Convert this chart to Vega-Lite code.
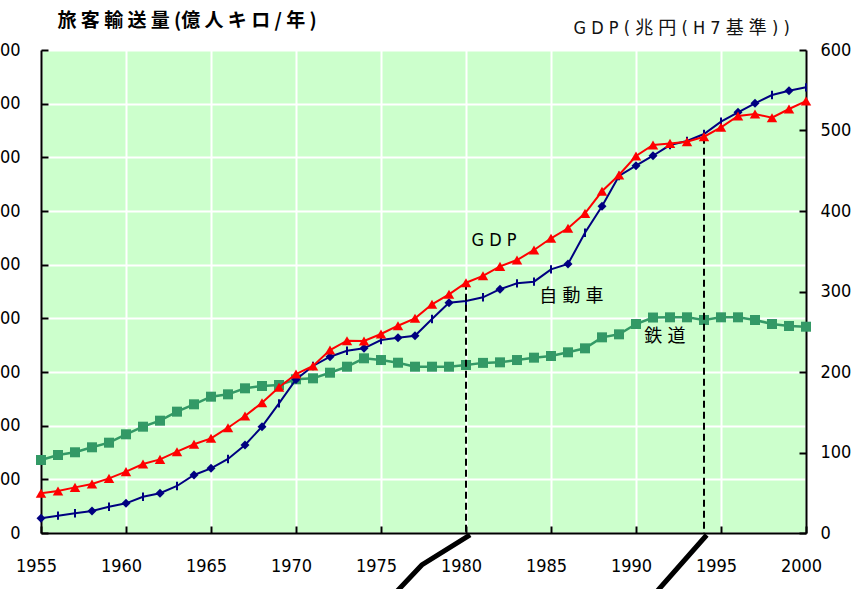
{
  "$schema": "https://vega.github.io/schema/vega-lite/v6.json",
  "width": 765,
  "height": 483,
  "autosize": {"type": "none"},
  "padding": {"left": 41, "top": 50, "right": 50, "bottom": 56},
  "background": "white",
  "config": {
    "view": {"fill": "#CCFFCC", "stroke": null},
    "font": "'DejaVu Sans Condensed', 'Liberation Sans', sans-serif"
  },
  "datasets": {
    "series": [
      {"year": 1955, "rail": 1360, "auto": 274, "gdp": 49.3},
      {"year": 1956, "rail": 1453, "auto": 323, "gdp": 52.2},
      {"year": 1957, "rail": 1504, "auto": 367, "gdp": 56.7},
      {"year": 1958, "rail": 1597, "auto": 410, "gdp": 60.9},
      {"year": 1959, "rail": 1683, "auto": 490, "gdp": 67.9},
      {"year": 1960, "rail": 1839, "auto": 553, "gdp": 76.2},
      {"year": 1961, "rail": 1981, "auto": 676, "gdp": 85.7},
      {"year": 1962, "rail": 2093, "auto": 740, "gdp": 91.5},
      {"year": 1963, "rail": 2261, "auto": 876, "gdp": 101.0},
      {"year": 1964, "rail": 2398, "auto": 1081, "gdp": 110.2},
      {"year": 1965, "rail": 2540, "auto": 1205, "gdp": 117.6},
      {"year": 1966, "rail": 2584, "auto": 1379, "gdp": 130.8},
      {"year": 1967, "rail": 2696, "auto": 1640, "gdp": 145.3},
      {"year": 1968, "rail": 2739, "auto": 1981, "gdp": 161.9},
      {"year": 1969, "rail": 2758, "auto": 2416, "gdp": 181.0},
      {"year": 1970, "rail": 2864, "auto": 2860, "gdp": 197.5},
      {"year": 1971, "rail": 2882, "auto": 3112, "gdp": 207.5},
      {"year": 1972, "rail": 2987, "auto": 3285, "gdp": 227.3},
      {"year": 1973, "rail": 3099, "auto": 3397, "gdp": 238.9},
      {"year": 1974, "rail": 3255, "auto": 3441, "gdp": 238.5},
      {"year": 1975, "rail": 3223, "auto": 3596, "gdp": 247.2},
      {"year": 1976, "rail": 3173, "auto": 3639, "gdp": 257.5},
      {"year": 1977, "rail": 3099, "auto": 3676, "gdp": 266.7},
      {"year": 1978, "rail": 3099, "auto": 3987, "gdp": 284.1},
      {"year": 1979, "rail": 3099, "auto": 4291, "gdp": 296.5},
      {"year": 1980, "rail": 3130, "auto": 4323, "gdp": 310.9},
      {"year": 1981, "rail": 3170, "auto": 4392, "gdp": 319.5},
      {"year": 1982, "rail": 3180, "auto": 4543, "gdp": 331.2},
      {"year": 1983, "rail": 3223, "auto": 4652, "gdp": 339.1},
      {"year": 1984, "rail": 3267, "auto": 4683, "gdp": 351.6},
      {"year": 1985, "rail": 3298, "auto": 4913, "gdp": 366.1},
      {"year": 1986, "rail": 3367, "auto": 5012, "gdp": 378.5},
      {"year": 1987, "rail": 3441, "auto": 5595, "gdp": 397.1},
      {"year": 1988, "rail": 3646, "auto": 6087, "gdp": 424.5},
      {"year": 1989, "rail": 3702, "auto": 6652, "gdp": 444.7},
      {"year": 1990, "rail": 3894, "auto": 6844, "gdp": 468.3},
      {"year": 1991, "rail": 4015, "auto": 7030, "gdp": 482.0},
      {"year": 1992, "rail": 4019, "auto": 7229, "gdp": 484.0},
      {"year": 1993, "rail": 4019, "auto": 7304, "gdp": 486.1},
      {"year": 1994, "rail": 3969, "auto": 7434, "gdp": 492.3},
      {"year": 1995, "rail": 4019, "auto": 7664, "gdp": 504.0},
      {"year": 1996, "rail": 4019, "auto": 7839, "gdp": 518.0},
      {"year": 1997, "rail": 3969, "auto": 8006, "gdp": 520.5},
      {"year": 1998, "rail": 3894, "auto": 8161, "gdp": 515.9},
      {"year": 1999, "rail": 3857, "auto": 8241, "gdp": 526.7},
      {"year": 2000, "rail": 3844, "auto": 8304, "gdp": 536.6}
    ],
    "notes": [
      {"text": "G D P", "year": 1981.65, "value": 5441},
      {"text": "自 動 車", "year": 1986.2, "value": 4397},
      {"text": "鉄 道", "year": 1991.7, "value": 3652}
    ],
    "leaders": [
      {"grp": "a", "year": 1980.24, "value": -37},
      {"grp": "a", "year": 1977.4, "value": -596},
      {"grp": "a", "year": 1974.9, "value": -1435},
      {"grp": "b", "year": 1994.16, "value": -37},
      {"grp": "b", "year": 1991.41, "value": -1025},
      {"grp": "b", "year": 1990.27, "value": -1435}
    ]
  },
  "encoding": {
    "x": {
      "field": "year",
      "type": "quantitative",
      "scale": {"domain": [1955, 2000], "nice": false, "zero": false},
      "axis": {
        "title": null,
        "values": [1955, 1960, 1965, 1970, 1975, 1980, 1985, 1990, 1995, 2000],
        "format": "d",
        "grid": true,
        "gridColor": "white",
        "gridWidth": 2,
        "gridOpacity": 1,
        "domainColor": "black",
        "domainWidth": 2,
        "tickColor": "black",
        "tickWidth": 2,
        "tickSize": -7,
        "labelFlush": false,
        "labelOverlap": false,
        "labelFontSize": 18,
        "labelColor": "black",
        "labelBaseline": "top",
        "labelPadding": 31,
        "labelOffset": -5
      }
    }
  },
  "layer": [
    {
      "layer": [
        {
          "data": {"name": "series"},
          "mark": {"type": "line", "color": "#339966", "strokeWidth": 2.5},
          "encoding": {
            "y": {
              "field": "rail",
              "type": "quantitative",
              "scale": {"domain": [0, 9000], "nice": false, "zero": false},
              "axis": {
                "orient": "left",
                "values": [0, 1000, 2000, 3000, 4000, 5000, 6000, 7000, 8000, 9000],
                "format": "d",
                "grid": true,
                "gridColor": "white",
                "gridWidth": 2,
                "gridOpacity": 1,
                "domainColor": "black",
                "domainWidth": 2,
                "tickColor": "black",
                "tickWidth": 2,
                "tickSize": -7,
                "labelFontSize": 18,
                "labelColor": "black",
                "labelAlign": "right",
                "labelPadding": 28,
                "labelFlush": false,
                "labelOverlap": false,
                "title": "旅 客 輸 送 量 (億 人 キ ロ / 年 )",
                "titleAngle": 0,
                "titleAlign": "left",
                "titleBaseline": "middle",
                "titleX": 16,
                "titleY": -30,
                "titleFont": "'Noto Sans CJK JP'",
                "titleFontSize": 19,
                "titleFontWeight": "bold",
                "titleColor": "black"
              }
            }
          }
        },
        {
          "data": {"name": "series"},
          "mark": {"type": "point", "shape": "square", "filled": true, "size": 100, "color": "#339966", "opacity": 1},
          "encoding": {"y": {"field": "rail", "type": "quantitative"}}
        },
        {
          "data": {"name": "series"},
          "mark": {"type": "line", "color": "#000080", "strokeWidth": 2},
          "encoding": {"y": {"field": "auto", "type": "quantitative"}}
        },
        {
          "data": {"name": "series"},
          "transform": [{"filter": "indexof([1955,1958,1960,1962,1964,1965,1967,1968,1970,1972,1974,1976,1977,1979,1982,1986,1988,1990,1991,1996,1997,1999], datum.year) >= 0"}],
          "mark": {"type": "point", "shape": "diamond", "filled": true, "size": 80, "color": "#000080", "opacity": 1},
          "encoding": {"y": {"field": "auto", "type": "quantitative"}}
        },
        {
          "data": {"name": "series"},
          "transform": [{"filter": "indexof([1955,1958,1960,1962,1964,1965,1967,1968,1970,1972,1974,1976,1977,1979,1982,1986,1988,1990,1991,1996,1997,1999], datum.year) < 0"}],
          "mark": {"type": "point", "shape": "stroke", "angle": 90, "filled": false, "size": 70, "strokeWidth": 2, "color": "#000080", "opacity": 1},
          "encoding": {"y": {"field": "auto", "type": "quantitative"}}
        },
        {
          "data": {"name": "notes"},
          "mark": {"type": "text", "align": "center", "baseline": "middle", "font": "'DejaVu Sans Condensed', 'Liberation Sans', 'Noto Sans CJK JP'", "fontSize": 18, "color": "black"},
          "encoding": {
            "y": {"field": "value", "type": "quantitative"},
            "text": {"field": "text"}
          }
        },
        {
          "data": {"name": "leaders"},
          "mark": {"type": "line", "color": "black", "strokeWidth": 5, "clip": false},
          "encoding": {
            "y": {"field": "value", "type": "quantitative"},
            "detail": {"field": "grp"}
          }
        }
      ]
    },
    {
      "layer": [
        {
          "data": {"name": "series"},
          "transform": [{"filter": "datum.year == 1980 || datum.year == 1994"}],
          "mark": {"type": "rule", "color": "black", "strokeWidth": 2, "strokeDash": [7, 4]},
          "encoding": {
            "y": {"field": "gdp", "type": "quantitative"},
            "y2": {"datum": 0}
          }
        },
        {
          "data": {"name": "series"},
          "mark": {"type": "line", "color": "#FF0000", "strokeWidth": 2},
          "encoding": {
            "y": {
              "field": "gdp",
              "type": "quantitative",
              "scale": {"domain": [0, 600], "nice": false, "zero": false},
              "axis": {
                "orient": "right",
                "values": [0, 100, 200, 300, 400, 500, 600],
                "format": "d",
                "grid": false,
                "domainColor": "black",
                "domainWidth": 2,
                "tickColor": "black",
                "tickWidth": 2,
                "tickSize": -7,
                "labelFontSize": 18,
                "labelColor": "black",
                "labelAlign": "left",
                "labelPadding": 21,
                "labelFlush": false,
                "labelOverlap": false,
                "title": "G D P ( 兆 円 ( H 7 基 準 ) )",
                "titleAngle": 0,
                "titleAlign": "left",
                "titleBaseline": "middle",
                "titleX": -233,
                "titleY": -22,
                "titleFont": "'DejaVu Sans Condensed', 'Liberation Sans', 'Noto Sans CJK JP'",
                "titleFontSize": 18,
                "titleFontWeight": "normal",
                "titleColor": "#111111"
              }
            }
          }
        },
        {
          "data": {"name": "series"},
          "mark": {"type": "point", "shape": "triangle-up", "filled": true, "size": 110, "color": "#FF0000", "opacity": 1},
          "encoding": {"y": {"field": "gdp", "type": "quantitative"}}
        }
      ]
    }
  ],
  "resolve": {"scale": {"y": "independent"}, "axis": {"y": "independent"}}
}
